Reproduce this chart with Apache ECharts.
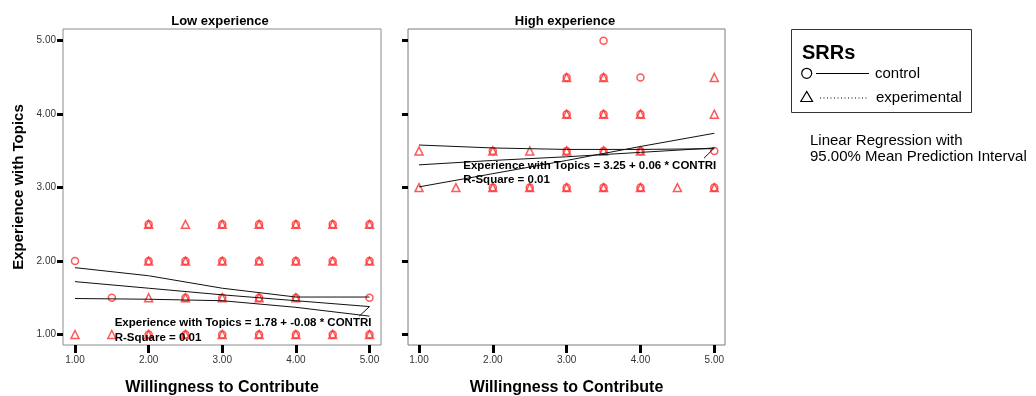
<!DOCTYPE html>
<html>
<head>
<meta charset="utf-8">
<script src="https://cdn.jsdelivr.net/npm/echarts@6/dist/echarts.min.js"></script>
<style>
html, body { margin: 0; padding: 0; background: #fff; }
#srr_scatter { width: 1036px; height: 396px; }
</style>
</head>
<body>
<div id="srr_scatter"></div>
<script>
var tickValues = [1, 2, 3, 4, 5];
var panelTitles = ['Low experience', 'High experience'];
var xTitle = 'Willingness to Contribute';
var yTitle = 'Experience with Topics';
var groupNames = ['control', 'experimental'];

// Low experience panel
var lowControl = [
    [1, 2], [1.5, 1.5], [5, 1.5],
    [2, 2.5], [3, 2.5], [3.5, 2.5], [4, 2.5], [4.5, 2.5], [5, 2.5],
    [2, 2], [2.5, 2], [3, 2], [3.5, 2], [4, 2], [4.5, 2], [5, 2],
    [2.5, 1.5], [3, 1.5], [3.5, 1.5], [4, 1.5],
    [2, 1], [2.5, 1], [3, 1], [3.5, 1], [4, 1], [4.5, 1], [5, 1]
];
var lowExperimental = [
    [2, 2.5], [2.5, 2.5], [3, 2.5], [3.5, 2.5], [4, 2.5], [4.5, 2.5], [5, 2.5],
    [2, 2], [2.5, 2], [3, 2], [3.5, 2], [4, 2], [4.5, 2], [5, 2],
    [2, 1.5], [2.5, 1.5], [3, 1.5], [3.5, 1.5], [4, 1.5],
    [1, 1], [1.5, 1], [2, 1], [2.5, 1], [3, 1], [3.5, 1], [4, 1], [4.5, 1], [5, 1]
];

// High experience panel
var highControl = [
    [3.5, 5],
    [3, 4.5], [3.5, 4.5], [4, 4.5],
    [3, 4], [3.5, 4], [4, 4],
    [2, 3.5], [3, 3.5], [3.5, 3.5], [4, 3.5], [5, 3.5],
    [2, 3], [2.5, 3], [3, 3], [3.5, 3], [4, 3], [5, 3]
];
var highExperimental = [
    [3, 4.5], [3.5, 4.5], [5, 4.5],
    [3, 4], [3.5, 4], [4, 4], [5, 4],
    [1, 3.5], [2, 3.5], [2.5, 3.5], [3, 3.5], [3.5, 3.5], [4, 3.5],
    [1, 3], [1.5, 3], [2, 3], [2.5, 3], [3, 3], [3.5, 3], [4, 3], [4.5, 3], [5, 3]
];

// regression lines
var lineX = [1, 2, 3, 4, 5];
var lowUpper = [1.91, 1.80, 1.63, 1.51, 1.51];
var lowFit = [1.72, 1.63, 1.54, 1.46, 1.38];
var lowLower = [1.49, 1.48, 1.46, 1.37, 1.25];
var highUpper = [3.58, 3.54, 3.52, 3.52, 3.53];
var highFit = [3.31, 3.37, 3.42, 3.48, 3.54];
var highLower = [3.01, 3.19, 3.37, 3.56, 3.74];
var leaderX = [5, 4.86];
var lowLeaderY = [1.38, 1.25];
var highLeaderY = [3.54, 3.40];

var equations = [
    'Experience with Topics = 1.78 + -0.08 * CONTRI',
    'Experience with Topics = 3.25 + 0.06 * CONTRI'
];
var rSquares = ['R-Square = 0.01', 'R-Square = 0.01'];

var FONT = '"Liberation Sans", Arial, sans-serif';
var RED = '#ff2e2e';

function pairs(xs, ys) {
    return xs.map(function (x, i) { return [x, ys[i]]; });
}
function fmt(v) { return v.toFixed(2); }

function xAxisFor(i, min, max) {
    return {
        type: 'value', gridIndex: i, min: min, max: max,
        name: xTitle, nameLocation: 'middle', nameGap: 35,
        nameTextStyle: { fontSize: 16, fontWeight: 'bold', color: '#000', fontFamily: FONT },
        axisLine: { show: false },
        axisTick: { show: true, customValues: tickValues, length: 8, lineStyle: { color: '#000', width: 3 } },
        axisLabel: { customValues: tickValues, formatter: fmt, fontSize: 10, color: '#333', margin: 10, fontFamily: FONT },
        splitLine: { show: false }
    };
}
function yAxisFor(i, withLabels) {
    return {
        type: 'value', gridIndex: i, min: 0.857, max: 5.16,
        name: withLabels ? yTitle : '', nameLocation: 'middle', nameGap: 37,
        nameTextStyle: { fontSize: 15, fontWeight: 'bold', color: '#000', fontFamily: FONT },
        axisLine: { show: false },
        axisTick: { show: true, customValues: tickValues, length: 6, lineStyle: { color: '#000', width: 3 } },
        axisLabel: { show: withLabels, customValues: tickValues, formatter: fmt, fontSize: 10, color: '#333', margin: 7, fontFamily: FONT },
        splitLine: { show: false }
    };
}
function points(name, data, i, symbol, size) {
    return {
        name: name, type: 'scatter', xAxisIndex: i, yAxisIndex: i,
        symbol: symbol, symbolSize: size, data: data,
        itemStyle: { color: 'rgba(0,0,0,0)', borderColor: RED, borderWidth: 1.5 },
        silent: true
    };
}
function fitLine(ys, i) {
    return {
        type: 'line', xAxisIndex: i, yAxisIndex: i, data: pairs(lineX, ys),
        showSymbol: false, lineStyle: { color: '#111', width: 1 }, silent: true, z: 3
    };
}
function leader(ys, i) {
    return {
        type: 'line', xAxisIndex: i, yAxisIndex: i, data: pairs(leaderX, ys),
        showSymbol: false, lineStyle: { color: '#111', width: 1 }, silent: true, z: 3
    };
}
function txt(x, y, text, font, align) {
    return {
        type: 'text', x: x, y: y, z: 10,
        style: { text: text, font: font, fill: '#000', align: align || 'left', verticalAlign: 'middle' }
    };
}

var option = {
    backgroundColor: '#fff',
    animation: false,
    grid: [
        { left: 63, top: 29, width: 318, height: 316, outerBoundsMode: 'none', containLabel: false, show: true, borderColor: '#8c8c8c', borderWidth: 1 },
        { left: 408, top: 29, width: 317, height: 316, outerBoundsMode: 'none', containLabel: false, show: true, borderColor: '#7a7a7a', borderWidth: 1 }
    ],
    xAxis: [xAxisFor(0, 0.837, 5.156), xAxisFor(1, 0.851, 5.145)],
    yAxis: [yAxisFor(0, true), yAxisFor(1, false)],
    series: [
        points(groupNames[0], lowControl, 0, 'circle', 7),
        points(groupNames[1], lowExperimental, 0, 'triangle', 8),
        points(groupNames[0], highControl, 1, 'circle', 7),
        points(groupNames[1], highExperimental, 1, 'triangle', 8),
        fitLine(lowUpper, 0), fitLine(lowFit, 0), fitLine(lowLower, 0), leader(lowLeaderY, 0),
        fitLine(highUpper, 1), fitLine(highFit, 1), fitLine(highLower, 1), leader(highLeaderY, 1)
    ],
    graphic: [
        txt(220, 21.7, panelTitles[0], 'bold 13px ' + FONT, 'center'),
        txt(565, 21.7, panelTitles[1], 'bold 13px ' + FONT, 'center'),
        txt(114.7, 323.3, equations[0], 'bold 11.5px ' + FONT),
        txt(114.7, 337.7, rSquares[0], 'bold 11.5px ' + FONT),
        txt(463.3, 165.7, equations[1], 'bold 11.5px ' + FONT),
        txt(463.3, 180.3, rSquares[1], 'bold 11.5px ' + FONT),
        // legend box
        { type: 'rect', shape: { x: 791.5, y: 29.5, width: 180, height: 83 }, style: { fill: '#fff', stroke: '#333', lineWidth: 1 } },
        txt(802, 53.3, 'SRRs', 'bold 20px ' + FONT),
        { type: 'circle', shape: { cx: 806.7, cy: 73.3, r: 5 }, style: { fill: 'none', stroke: '#000', lineWidth: 1.2 }, z: 10 },
        { type: 'line', shape: { x1: 816, y1: 73.5, x2: 869, y2: 73.5 }, style: { stroke: '#000', lineWidth: 1 }, z: 10 },
        txt(875, 74, groupNames[0], '15px ' + FONT),
        { type: 'polygon', shape: { points: [[806.7, 91.5], [800.8, 101.5], [812.6, 101.5]] }, style: { fill: 'none', stroke: '#000', lineWidth: 1.2 }, z: 10 },
        { type: 'line', shape: { x1: 820, y1: 98, x2: 868, y2: 98 }, style: { stroke: '#000', lineWidth: 1, lineDash: [1, 2.5] }, z: 10 },
        txt(876, 97.8, groupNames[1], '15px ' + FONT),
        txt(810, 141, 'Linear Regression with', '15px ' + FONT),
        txt(810, 156.7, '95.00% Mean Prediction Interval', '15px ' + FONT)
    ]
};

var chart = echarts.init(document.getElementById('srr_scatter'));
chart.setOption(option);
</script>
</body>
</html>
